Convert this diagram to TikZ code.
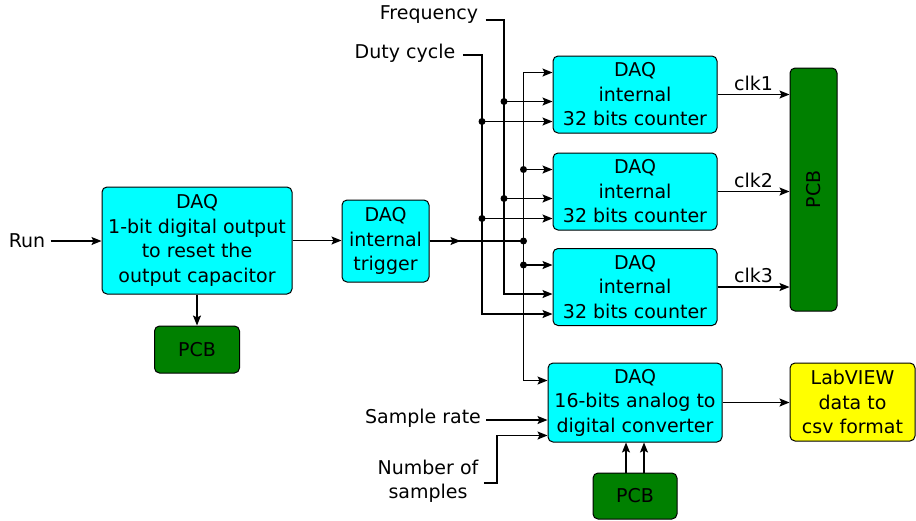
\documentclass[tikz,border=0pt]{standalone}
\usepackage{fontspec}
\usepackage{graphicx}
\setmainfont{DejaVu Sans}
\usetikzlibrary{arrows.meta,calc,positioning}

\definecolor{daqcyan}{RGB}{0,255,255}
\definecolor{pcbgreen}{RGB}{0,128,0}
\definecolor{labyellow}{RGB}{255,255,0}

\begin{document}
\begin{tikzpicture}[
    x=1pt, y=-1pt,
    font=\fontsize{19}{24.5}\selectfont,
    daq/.style={rectangle, rounded corners=5pt, draw, line width=1pt, fill=daqcyan, align=center, inner sep=0pt},
    pcb/.style={rectangle, rounded corners=5pt, draw, line width=1pt, fill=pcbgreen, inner sep=0pt},
    soft/.style={rectangle, rounded corners=5pt, draw, line width=1pt, fill=labyellow, align=center, inner sep=0pt},
    arrow/.style={-{Stealth[length=10pt,width=8pt,inset=2pt]}, line width=1.3pt},
    wire/.style={line width=1.3pt},
    dot/.style={circle, fill, inner sep=0pt, minimum size=7pt}
]
\useasboundingbox (0,0) rectangle (916,520);

% Inputs
\node (run) at (27,241) {Run};
\node (freq) at (429,15) {Frequency};
\node (duty) at (405,53) {Duty cycle};
\node (srate) at (423,418) {Sample rate};
\node[align=center] (nsamp) at (428,481) {Number of\\samples};

% DAQ blocks
\node[daq, minimum width=190pt, minimum height=107pt] (dout) at (197,240.5) {DAQ\\1-bit digital output\\to reset the\\output capacitor};
\node[daq, minimum width=87pt, minimum height=82pt] (trig) at (385.5,241) {DAQ\\internal\\trigger};
\foreach \i/\y in {1/94.5, 2/191.5, 3/287} {
    \node[daq, minimum width=164pt, minimum height=77pt] (cnt\i) at (635,\y) {DAQ\\internal\\32 bits counter};
}
\node[daq, minimum width=174pt, minimum height=79pt] (adc) at (635,402.5) {DAQ\\16-bits analog to\\digital converter};
\node[soft, minimum width=125pt, minimum height=78pt] (lab) at (852.5,402) {LabVIEW\\data to\\csv format};

% PCBs
\node[pcb, minimum width=85pt, minimum height=47pt] (pcb1) at (197,349.5) {PCB};
\node[pcb, minimum width=47pt, minimum height=243pt] (pcb2) at (813.5,189.5) {\rotatebox{90}{PCB}};
\node[pcb, minimum width=84pt, minimum height=46pt] (pcb3) at (635,496) {PCB};

% Counter input points
\foreach \i in {1,2,3} {
    \coordinate (t\i) at ($(cnt\i.north west)+(0,17)$);
    \coordinate (f\i) at ($(cnt\i.north west)+(0,46)$);
    \coordinate (d\i) at ($(cnt\i.north west)+(0,66)$);
}
\coordinate (a1) at ($(adc.north west)+(0,18)$);
\coordinate (a3) at ($(adc.north west)+(0,73)$);
\coordinate (fbus) at (504,0);
\coordinate (dbus) at (482,0);
\coordinate (nb) at (497,0);
\coordinate (tj) at ($(trig.east)+(94,0)$);

% Main chain
\draw[arrow] ([xshift=2pt]run.east) -- (run.east -| dout.west);
\draw[arrow] (dout.south) -- (pcb1.north);
\draw[arrow] (dout.east) -- (dout.east -| trig.west);
\draw[wire] (trig.east) -- (tj);
\draw[arrow] (trig.east) -- ++(31,0);

% Frequency and duty cycle buses
\draw[arrow] ([xshift=4pt,yshift=-5pt]freq.east) -| (fbus |- f3) -- (f3);
\draw[arrow] ([xshift=4pt,yshift=-2pt]duty.east) -| (dbus |- d3) -- (d3);
\foreach \i in {1,2} {
    \draw[arrow] (fbus |- f\i) node[dot] {} -- (f\i);
    \draw[arrow] (dbus |- d\i) node[dot] {} -- (d\i);
}

% Trigger bus
\draw[arrow] (tj) |- (t1);
\draw[arrow] (tj) |- (a1);
\node[dot] at (tj) {};
\foreach \i in {2,3} {
    \draw[arrow] (tj |- t\i) node[dot] {} -- (t\i);
}

% Clocks to PCB
\foreach \i in {1,2,3} {
    \draw[arrow] (cnt\i.east) -- (cnt\i.east -| pcb2.west) node[midway, above] {clk\i};
}

% ADC inputs and output
\draw[arrow] ([xshift=2pt,yshift=-2pt]srate.east) -- ([yshift=-2pt]srate.east -| adc.west);
\draw[arrow] ([xshift=2pt,yshift=-2pt]nsamp.east) -| (nb |- a3) -- (a3);
\foreach \dx in {-9,9} {
    \draw[arrow] ([xshift=\dx pt]pcb3.north) -- ([xshift=\dx pt]adc.south);
}
\draw[arrow] (adc.east) -- (adc.east -| lab.west);
\end{tikzpicture}
\end{document}
